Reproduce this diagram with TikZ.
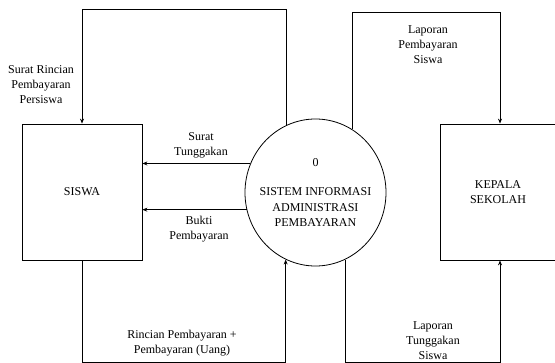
\documentclass[tikz,border=0pt]{standalone}
\usepackage{fontspec}
\setmainfont{Liberation Serif}
\usetikzlibrary{arrows.meta,shapes.geometric}
\begin{document}
\begin{tikzpicture}[x=1pt,y=-1pt,
  every node/.style={font=\fontsize{12}{15}\selectfont, inner sep=0pt},
  entity/.style={draw, line width=0.8pt, minimum height=136pt},
  process/.style={draw, ellipse, line width=0.8pt, minimum width=141pt, minimum height=147pt},
  flow/.style={line width=0.8pt, -{Stealth[length=5pt,width=4pt]}},
  lbl/.style={align=center}]
  \useasboundingbox (0,0) rectangle (555,363);

  % entities and process
  \node[entity, minimum width=120pt] (siswa) at (82,192) {SISWA};
  \node[entity, minimum width=115pt, align=center] (kepala) at (498,192) {KEPALA\\SEKOLAH};
  \node[process] (proc) at (315.5,192.5) {};
  \node[lbl, font=\fontsize{12}{15.5}\selectfont] (proctext) at (proc.center)
    {0\\[14pt]SISTEM INFORMASI\\ADMINISTRASI\\PEMBAYARAN};

  % routing levels
  \coordinate (topL) at (0,9);
  \coordinate (topR) at (0,12);
  \coordinate (bot) at (0,362);

  % data flows
  \draw[flow] (proc.113) -- (proc.113 |- topL) -| (siswa.north);
  \draw[flow] (proc.156) -- (proc.156 -| siswa.east);
  \draw[flow] (proc.194) -- (proc.194 -| siswa.east);
  \draw[flow] (siswa.south) -- (siswa.south |- bot) -| (proc.246);
  \draw[flow] (proc.60) -- (proc.60 |- topR) -| ([xshift=2pt]kepala.north);
  \draw[flow] (proc.294) -- (proc.294 |- bot) -| ([xshift=2pt]kepala.south);

  % flow labels
  \node[lbl] (l1) at (41,85) {Surat Rincian\\Pembayaran\\Persiswa};
  \node[lbl] (l2) at (201,145.5) {Surat\\Tunggakan};
  \node[lbl] (l3) at (199,229.5) {Bukti\\Pembayaran};
  \node[lbl] (l4) at (182,343.5) {Rincian Pembayaran +\\Pembayaran (Uang)};
  \node[lbl] (l5) at (428,45) {Laporan\\Pembayaran\\Siswa};
  \node[lbl] (l6) at (433,340.5) {Laporan\\Tunggakan\\Siswa};
\end{tikzpicture}
\end{document}
